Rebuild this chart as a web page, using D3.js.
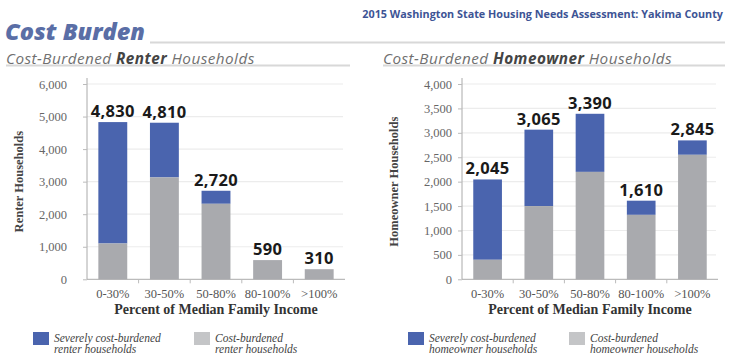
<!DOCTYPE html>
<html><head><meta charset="utf-8">
<script src="https://cdn.jsdelivr.net/npm/d3@7"></script>
<style>
body{margin:0;background:#fff;}
svg{display:block;}
</style></head>
<body><svg id="c" width="734" height="363"></svg>
<script>
const categories = ["0-30%","30-50%","50-80%","80-100%",">100%"];
const renterTotal = [4830,4810,2720,590,310];
const renterCost = [1100,3130,2320,590,310];
const ownerTotal = [2045,3065,3390,1610,2845];
const ownerCost = [400,1500,2200,1320,2550];
const renterTicks = [0,1000,2000,3000,4000,5000,6000];
const ownerTicks = [0,500,1000,1500,2000,2500,3000,3500,4000];

const BLUE = "#4a64ae", GRAY = "#a9aaae";
const svg = d3.select("#c");
const serif = "'Liberation Serif','DejaVu Serif',serif";
const sans = "'Open Sans','Noto Sans',sans-serif";

// Header
svg.append("text").attr("x",723).attr("y",18).attr("text-anchor","end")
  .style("font-family",sans).style("font-weight",700).style("font-size","10.8px")
  .attr("fill","#3d5495").text("2015 Washington State Housing Needs Assessment: Yakima County");
svg.append("text").attr("x",5).attr("y",40).style("font-family",sans)
  .style("font-weight",800).style("font-style","italic").style("font-size","23.5px")
  .attr("fill","#5a6ea6").text("Cost Burden");
svg.append("line").attr("x1",150).attr("x2",725).attr("y1",42.5).attr("y2",42.5)
  .attr("stroke","#d8d8d8").attr("stroke-width",2);

function subtitle(x, bold, x2){
  const t = svg.append("text").attr("x",x).attr("y",63.5).style("font-family",sans)
    .style("font-style","italic").style("font-size","15.3px").style("letter-spacing","0.45px")
    .attr("fill","#707070");
  t.append("tspan").text("Cost-Burdened ");
  t.append("tspan").style("font-weight",700).attr("fill","#444").text(bold);
  t.append("tspan").text(" Households");
  svg.append("line").attr("x1",x).attr("x2",x2).attr("y1",65.5).attr("y2",65.5)
    .attr("stroke","#d8d8d8").attr("stroke-width",2);
}
subtitle(6,"Renter",350);
subtitle(383,"Homeowner",725);

function chart(opts){
  const {x0,x1,max,ticks,total,cost,ytitle,ytx,labelX,legendX,legendText} = opts;
  const y0 = 279.3, yTop = 84;
  const y = d3.scaleLinear().domain([0,max]).range([y0,yTop]);
  const x = d3.scaleBand().domain(categories).range([x0,x1]).paddingInner(0.44).paddingOuter(0.22);
  const g = svg.append("g");
  // gridlines
  g.selectAll(".grid").data(ticks.filter(d=>d>0)).join("line")
    .attr("x1",x0).attr("x2",x1-2).attr("y1",d=>y(d)).attr("y2",d=>y(d))
    .attr("stroke","#ececec").attr("stroke-width",1.2);
  // y axis
  const ya = g.append("g").attr("transform",`translate(${x0},0)`)
    .call(d3.axisLeft(y).tickValues(ticks).tickFormat(d3.format(",")).tickSize(4).tickPadding(labelX));
  ya.attr("font-family",null).attr("font-size",null);
  ya.select(".domain").attr("stroke","#aaa").attr("d",`M0,${y0}V${yTop-6}`);
  ya.selectAll(".tick line").attr("stroke","#bbb");
  ya.selectAll("text").style("font-family",serif).style("font-size","12.5px").attr("fill","#666");
  // x axis
  const xa = g.append("g").attr("transform",`translate(0,${y0})`)
    .call(d3.axisBottom(x).tickSize(0).tickPadding(10));
  xa.attr("font-family",null).attr("font-size",null);
  xa.select(".domain").attr("stroke","#aaa").attr("d",`M${x0},0H${x1}`);
  xa.selectAll("text").style("font-family",serif).style("font-size","12.5px").attr("fill","#555");
  // separators
  g.selectAll(".sep").data(categories.slice(1)).join("line")
    .attr("x1",d=>x(d)-x.step()*x.paddingInner()/2).attr("x2",d=>x(d)-x.step()*x.paddingInner()/2)
    .attr("y1",y0).attr("y2",y0+4).attr("stroke","#bbb");
  // bars
  const data = categories.map((c,i)=>({c,total:total[i],cost:cost[i]}));
  g.selectAll(".b1").data(data).join("rect")
    .attr("x",d=>x(d.c)).attr("width",x.bandwidth())
    .attr("y",d=>y(d.total)).attr("height",d=>y(d.cost)-y(d.total)).attr("fill",BLUE);
  g.selectAll(".b2").data(data).join("rect")
    .attr("x",d=>x(d.c)).attr("width",x.bandwidth())
    .attr("y",d=>y(d.cost)).attr("height",d=>y0-y(d.cost)).attr("fill",GRAY);
  g.selectAll(".v").data(data).join("text")
    .attr("x",d=>x(d.c)+x.bandwidth()/2).attr("y",d=>y(d.total)-5)
    .attr("text-anchor","middle").style("font-family",sans).style("font-weight",700)
    .style("font-size","16.5px").style("letter-spacing","0.3px").attr("fill","#1a1a1a")
    .text(d=>d3.format(",")(d.total));
  // axis titles
  svg.append("text").attr("transform",`translate(${ytx},${(y0+yTop)/2}) rotate(-90)`)
    .attr("text-anchor","middle").style("font-family",serif).style("font-weight",700)
    .style("font-size","12.5px").attr("fill","#444").text(ytitle);
  svg.append("text").attr("x",(x0+x1)/2).attr("y",314).attr("text-anchor","middle")
    .style("font-family",serif).style("font-weight",700).style("font-size","14px")
    .attr("fill","#333").text("Percent of Median Family Income");
  // legend
  const items = [{c:BLUE,t:["Severely cost-burdened",legendText]},{c:"#c4c5c7",t:["Cost-burdened",legendText]}];
  items.forEach((it,i)=>{
    const lx = legendX[i];
    svg.append("rect").attr("x",lx).attr("y",332).attr("width",16).attr("height",13).attr("fill",it.c);
    const t = svg.append("text").style("font-family",serif).style("font-style","italic")
      .style("font-size","11.5px").attr("fill","#444");
    it.t.forEach((s,k)=>t.append("tspan").attr("x",lx+21).attr("y",342+k*11).text(s));
  });
}
chart({x0:87,x1:345,max:6000,ticks:renterTicks,total:renterTotal,cost:renterCost,
  ytitle:"Renter Households",ytx:23,labelX:16,legendX:[33,194],legendText:"renter households"});
chart({x0:462,x1:718,max:4000,ticks:ownerTicks,total:ownerTotal,cost:ownerCost,
  ytitle:"Homeowner Households",ytx:398,labelX:6,legendX:[408,569],legendText:"homeowner households"});
</script></body></html>
